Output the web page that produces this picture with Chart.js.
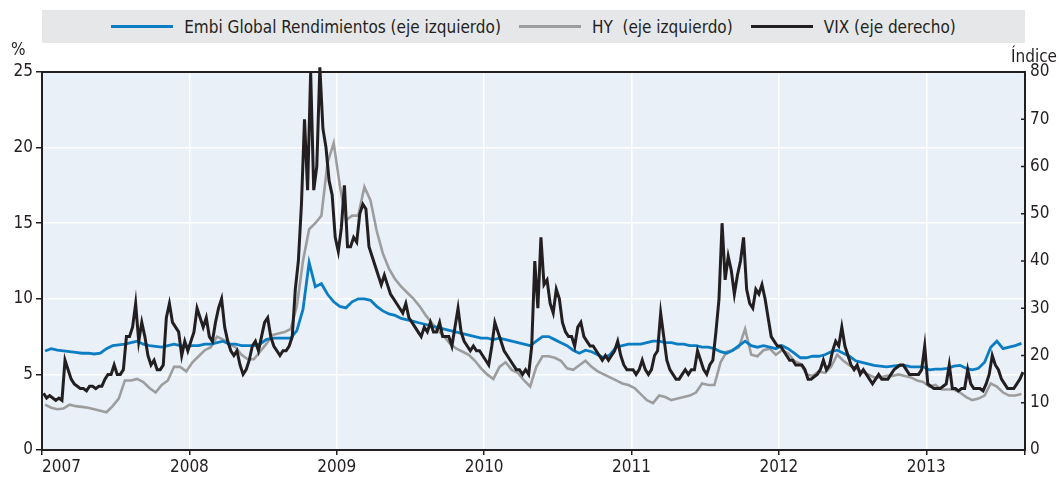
<!DOCTYPE html>
<html>
<head>
<meta charset="utf-8">
<script src="https://cdn.jsdelivr.net/npm/chart.js@4.4.1/dist/chart.umd.min.js"></script>
<style>
  html, body { margin: 0; padding: 0; background: #fff; }
  #wrap { position: relative; width: 1059px; height: 481px; }
  #legend {
    position: absolute; left: 42px; top: 10px; width: 983px; height: 33px;
    background: #E6E7E8; display: flex; align-items: center; justify-content: center;
    font: 17px "Liberation Sans Narrow", "DejaVu Sans Condensed", "Liberation Sans", sans-serif;
    color: #231F20;
  }
  .item { display: flex; align-items: center; margin: 0 9px; }
  .swatch { width: 62px; height: 3px; margin-right: 11px; }
</style>
</head>
<body>
<div id="wrap">
  <canvas id="chart" width="1059" height="481"></canvas>
  <div id="legend"></div>
</div>
<script>
const FONT = '"Liberation Sans Narrow", "DejaVu Sans Condensed", "Liberation Sans", sans-serif';
const ink = '#231F20';
const plotBg = '#E9F0F8';

const seriesLabels = ['Embi Global Rendimientos (eje izquierdo)', 'HY  (eje izquierdo)', 'VIX (eje derecho)'];
const seriesColors = ['#0A7DC3', '#9D9D9D', '#231F20'];
const xYears = [2007, 2008, 2009, 2010, 2011, 2012, 2013];
const leftTicks = [0, 5, 10, 15, 20, 25];
const rightTicks = [0, 10, 20, 30, 40, 50, 60, 70, 80];

// Embi Global, % (two readings per month, Jan 2007 - Aug 2013)
const embiValues = [
  6.55,6.7, 6.6,6.55, 6.5,6.45, 6.4,6.4, 6.35,6.4, 6.7,6.9, 6.95,7.0, 7.1,7.2, 7.0,6.9, 6.85,6.8, 6.9,7.0, 6.9,6.85,
  6.9,6.9, 7.0,7.0, 7.1,7.2, 7.0,7.0, 6.9,6.9, 6.9,7.0, 7.3,7.4, 7.4,7.4, 7.4,7.9, 9.3,12.4, 10.8,11.0, 10.3,9.8,
  9.5,9.4, 9.8,10.0, 10.0,9.9, 9.5,9.2, 9.0,8.9, 8.7,8.6, 8.5,8.4, 8.3,8.2, 8.1,8.0, 7.9,7.8, 7.7,7.6, 7.5,7.4,
  7.4,7.3, 7.4,7.3, 7.2,7.1, 7.0,6.9, 7.2,7.5, 7.5,7.3, 7.1,6.9, 6.6,6.4, 6.6,6.5, 6.3,6.1, 6.3,6.8, 6.9,7.0,
  7.0,7.0, 7.1,7.2, 7.2,7.1, 7.1,7.0, 7.0,6.9, 6.9,6.8, 6.8,6.7, 6.5,6.4, 6.6,6.9, 7.2,6.9, 6.8,6.9, 6.8,6.7,
  6.9,6.7, 6.4,6.1, 6.1,6.2, 6.2,6.3, 6.5,6.6, 6.4,6.2, 5.9,5.8, 5.7,5.6, 5.55,5.5, 5.55,5.6, 5.6,5.5, 5.5,5.5,
  5.3,5.35, 5.35,5.4, 5.55,5.6, 5.4,5.3, 5.4,5.8, 6.8,7.2, 6.7,6.8, 6.9,7.05
];

// HY, % (two readings per month)
const hyValues = [
  3.0,2.8, 2.7,2.75, 3.0,2.9, 2.85,2.8, 2.7,2.6, 2.5,2.9, 3.4,4.6, 4.6,4.7, 4.5,4.1, 3.8,4.3, 4.6,5.5, 5.5,5.2,
  5.8,6.2, 6.6,6.8, 7.5,7.3, 7.0,6.8, 6.3,6.0, 6.0,6.5, 7.0,7.6, 7.7,7.8, 8.0,9.5, 12.5,14.6, 15.0,15.5, 19.0,20.3,
  17.5,15.2, 15.5,15.5, 17.4,16.5, 14.5,13.0, 12.0,11.3, 10.8,10.4, 10.0,9.5, 8.9,8.4, 7.9,7.5, 7.0,6.7, 6.5,6.3, 5.9,5.4,
  5.0,4.7, 5.5,5.8, 5.3,5.1, 4.6,4.2, 5.5,6.2, 6.2,6.1, 5.9,5.4, 5.3,5.6, 5.9,5.5, 5.2,5.0, 4.8,4.6, 4.4,4.3,
  4.1,3.7, 3.3,3.1, 3.6,3.5, 3.3,3.4, 3.5,3.6, 3.8,4.4, 4.3,4.3, 5.8,6.5, 6.6,6.8, 8.0,6.3, 6.2,6.6, 6.7,6.3,
  6.6,6.4, 5.9,5.7, 5.0,4.9, 5.2,5.1, 5.5,6.3, 5.9,5.6, 5.4,5.2, 5.0,4.8, 4.8,4.9, 4.9,5.0, 4.9,4.8, 4.6,4.5,
  4.2,4.3, 4.0,4.0, 4.0,3.8, 3.5,3.3, 3.4,3.6, 4.4,4.2, 3.8,3.6, 3.6,3.7
];

// VIX, index (four readings per month)
const vixValues = [
  12,11,11.5,11, 10.5,11,10.5,19, 17,15,14,13.5, 13,13,12.5,13.5, 13.5,13,13.5,13.5, 15,16,16,18,
  16,16,17,24, 24,26,31,23, 27,24,20,18, 19,17,17,18, 28,31,27,26, 25,20,23,21,
  23,25,30,28, 26,28,24,23, 27,30,32,26, 23,21,20,21, 18,16,17,19, 22,23,21,24,
  27,28,24,22, 21,20,21,21, 22,24,34,40, 52,70,55,80, 55,60,81,68, 64,57,54,45,
  42,47,56,43, 43,45,44,50, 52,51,43,41, 39,37,35,37, 35,33,32,31, 30,29,31,28,
  27,26,25,24, 26,25,27,25, 25,27,24,24, 24,22,26,30, 25,23,22,21, 22,21,21,20,
  19,18,22,27, 25,23,21,20, 19,18,17,17, 16,17,16,22, 40,30,45,35, 36,31,29,34,
  32,27,25,24, 24,22,26,27, 24,23,22,22, 21,20,19,20, 19,20,21,23, 20,18,17,17,
  17,16,17,19, 17,16,17,20, 21,29,24,19, 17,16,15,15, 16,17,16,17, 17,21,19,17,
  16,18,19,25, 32,48,36,41, 38,33,37,40, 45,34,31,30, 34,33,35,32, 28,24,23,22,
  22,21,20,19, 19,18,18,18, 17,15,15,15.5, 16,17,19,17, 18,21,23,22, 26,22,20,18,
  17,18,16,17, 16,15,14,15, 16,15,15,15, 16,17,17.5,18, 18,17,16,16, 16,16,17,22,
  14,13.5,13,13, 13,13.5,14,18, 13,13,12.5,13, 13,17,14,13, 13,13,12.5,14, 16,20,18,17,
  15,14,13,13, 13,14,15,16.5
];

// readings sit in the middle of each half-month / week slot
const toPoints = (vals, perYear) => vals.map((v, i) => ({ x: 2007 + (i + 0.5) / perYear, y: v }));

const framePlugin = {
  id: 'frame',
  beforeDraw(chart) {
    const { ctx, chartArea: a } = chart;
    ctx.save();
    ctx.fillStyle = plotBg;
    ctx.fillRect(a.left, a.top, a.right - a.left, a.bottom - a.top);
    ctx.restore();
  },
  beforeDatasetsDraw(chart) {
    const { ctx, chartArea: a } = chart;
    ctx.save();
    ctx.strokeStyle = ink;
    ctx.lineWidth = 2;
    ctx.beginPath();
    ctx.moveTo(a.left - 1, a.top);
    ctx.lineTo(a.right + 1, a.top);
    ctx.stroke();
    ctx.restore();
  },
  afterDraw(chart) {
    const { ctx, chartArea: a, scales } = chart;
    ctx.save();
    ctx.strokeStyle = ink;
    ctx.lineWidth = 1.5;
    rightTicks.forEach(v => {
      const y = scales.yR.getPixelForValue(v);
      ctx.beginPath();
      ctx.moveTo(a.right - 4, y);
      ctx.lineTo(a.right, y);
      ctx.stroke();
    });
    ctx.fillStyle = ink;
    ctx.font = '17px ' + FONT;
    ctx.textBaseline = 'middle';
    ctx.textAlign = 'left';
    ctx.fillText('%', 11, 51);
    ctx.textAlign = 'right';
    ctx.fillText('Índice', 1057, 58);
    ctx.restore();
  }
};

const tickFont = { family: FONT, size: 17 };

new Chart(document.getElementById('chart'), {
  type: 'line',
  data: {
    datasets: [
      { label: seriesLabels[2], data: toPoints(vixValues, 48), yAxisID: 'yR', borderColor: seriesColors[2], borderWidth: 3, clip: 8 },
      { label: seriesLabels[0], data: toPoints(embiValues, 24), yAxisID: 'y', borderColor: seriesColors[0], borderWidth: 2.8 },
      { label: seriesLabels[1], data: toPoints(hyValues, 24), yAxisID: 'y', borderColor: seriesColors[1], borderWidth: 2.6 }
    ]
  },
  options: {
    responsive: false,
    animation: false,
    events: [],
    layout: { padding: { top: 72, left: 0, right: 0, bottom: 0 } },
    elements: { point: { radius: 0 }, line: { tension: 0, borderJoinStyle: 'miter' } },
    plugins: { legend: { display: false }, tooltip: { enabled: false } },
    scales: {
      x: {
        type: 'linear', min: 2007, max: 2013.67,
        afterBuildTicks: s => { s.ticks = xYears.map(v => ({ value: v })).concat([{ value: s.max }]); },
        afterFit: s => { s.height = 31; },
        ticks: {
          autoSkip: false, maxRotation: 0, align: 'inner', padding: 2,
          color: ink, font: tickFont,
          callback: v => xYears.includes(v) ? String(v) : ''
        },
        grid: { color: '#FFFFFF', lineWidth: 1.5, tickColor: ink, tickLength: 5 },
        border: { color: ink, width: 2 }
      },
      y: {
        position: 'left', min: 0, max: 25,
        afterBuildTicks: s => { s.ticks = leftTicks.map(v => ({ value: v })); },
        afterFit: s => { s.width = 42; },
        ticks: { color: ink, font: tickFont, padding: 3 },
        grid: { color: '#FFFFFF', lineWidth: 1.5, tickColor: ink, tickLength: 6 },
        border: { color: ink, width: 2 }
      },
      yR: {
        position: 'right', min: 0, max: 80,
        afterBuildTicks: s => { s.ticks = rightTicks.map(v => ({ value: v })); },
        afterFit: s => { s.width = 34; },
        ticks: { color: ink, font: tickFont, padding: 5 },
        grid: { drawOnChartArea: false, drawTicks: false },
        border: { color: ink, width: 2 }
      }
    }
  },
  plugins: [framePlugin]
});

// legend in the reference order
const legend = document.getElementById('legend');
[0, 1, 2].forEach(i => {
  const item = document.createElement('div');
  item.className = 'item';
  const sw = document.createElement('span');
  sw.className = 'swatch';
  sw.style.background = seriesColors[i];
  const tx = document.createElement('span');
  tx.textContent = seriesLabels[i];
  tx.style.whiteSpace = 'pre';
  item.appendChild(sw);
  item.appendChild(tx);
  legend.appendChild(item);
});
</script>
</body>
</html>
